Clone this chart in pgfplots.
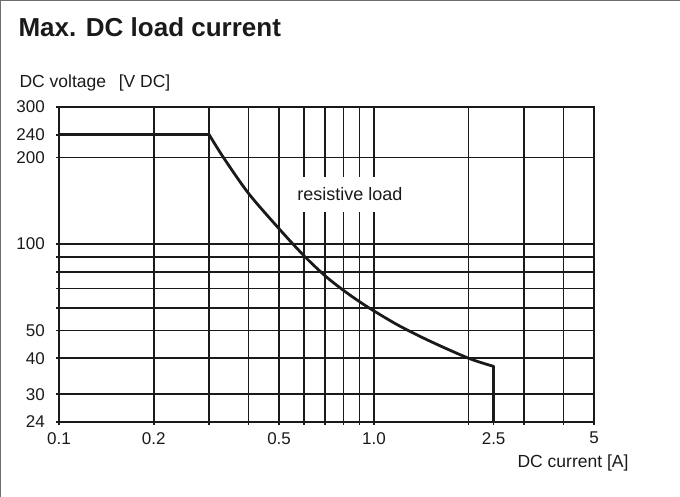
\documentclass[border=0pt]{standalone}
\usepackage{fontspec}
\setmainfont{Liberation Sans}
\usepackage{pgfplots}
\pgfplotsset{compat=1.18}

\definecolor{ink}{HTML}{1A1A1A}
\definecolor{frame}{HTML}{6E6E6E}

\begin{document}
\begin{tikzpicture}[x=1pt,y=1pt]
  \useasboundingbox (0,0) rectangle (680,-497);
  % outer frame (top and left edges only)
  \draw[frame, line width=1.3pt] (0.65,-497) -- (0.65,-0.65) -- (680,-0.65);

  \begin{axis}[
      at={(59pt,-422pt)}, anchor=south west,
      scale only axis,
      width=535pt, height=315pt,
      xmode=log, ymode=log,
      xmin=0.1, xmax=5, ymin=24, ymax=300,
      axis line style={ink, line width=1.6pt},
      grid=major,
      major grid style={ink, line width=1.6pt},
      tick style={ink, line width=1.6pt},
      tick align=outside, major tick length=3pt,
      xtick pos=left, ytick pos=left,
      xtick={0.1,0.2,0.3,0.4,0.5,0.6,0.7,0.8,0.9,1,2,3,4,5},
      xticklabels={0.1,0.2,,,0.5,,,,,1.0,,,,5},
      extra x ticks={2.4},
      extra x tick labels={2.5},
      extra x tick style={grid=none},
      ytick={24,30,40,50,60,70,80,90,100,200,300},
      yticklabels={24,30,40,50,,,,,100,200,300},
      extra y ticks={240},
      extra y tick labels={240},
      extra y tick style={grid=none},
      tick label style={font=\fontsize{17}{20}\selectfont, text=ink},
      /pgf/number format/assume math mode=true,
      xticklabel style={inner sep=0pt, anchor=north, yshift=-7pt},
      yticklabel style={inner sep=0pt, anchor=east, xshift=-11pt},
    ]
    % maximum DC load current, resistive load
    \addplot[ink, line width=2.8pt, line cap=round] coordinates {
      (0.1,240) (0.3,240)
    };
    \addplot[ink, line width=2.8pt, line cap=round, smooth, tension=0.5] coordinates {
      (0.3,240) (0.333,200) (0.4,150) (0.5,113) (0.6,91)
      (0.7,77.5) (0.8,69) (0.9,63) (1.0,58.5) (1.2,52) (1.5,46)
      (2.0,40) (2.4,37.5)
    };
    \addplot[ink, line width=2.8pt, line cap=round] coordinates {
      (2.4,37.5) (2.4,24)
    };
  \end{axis}

  \node[fill=white, inner xsep=1pt, minimum height=35pt, text=ink,
        font=\fontsize{18}{20}\selectfont] at (350,-194.5) {resistive load};

  \node[anchor=base west, text=ink, font=\fontsize{26}{30}\selectfont\bfseries]
    at (15,-37) {Max. DC load current};
  \node[anchor=base west, text=ink, font=\fontsize{17.5}{20}\selectfont]
    at (16,-88) {DC voltage\hspace{0.45em} [V DC]};
  \node[anchor=base east, text=ink, font=\fontsize{17.5}{20}\selectfont]
    at (632,-467) {DC current [A]};
\end{tikzpicture}
\end{document}
